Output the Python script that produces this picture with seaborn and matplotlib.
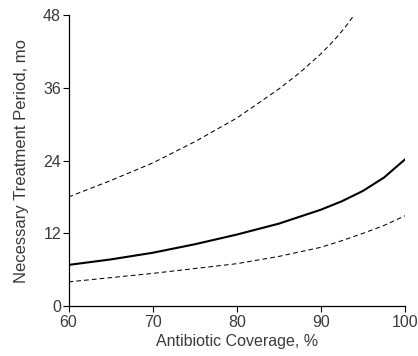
import matplotlib
matplotlib.use("Agg")
import matplotlib.pyplot as plt
import seaborn as sns
import pandas as pd

coverage = [60, 65, 70, 75, 80, 85, 90, 92.5, 95, 97.5, 100]
estimate = [6.8, 7.7, 8.8, 10.2, 11.8, 13.6, 15.9, 17.3, 19.0, 21.2, 24.2]
lower = [4.0, 4.7, 5.4, 6.2, 7.0, 8.2, 9.7, 10.8, 12.0, 13.3, 14.9]

upper_cov = [60, 65, 70, 75, 80, 85, 87.5, 90, 91, 92, 93, 94]
upper = [18.0, 20.7, 23.6, 27.1, 31.0, 35.8, 38.5, 41.6, 43.0, 44.5, 46.2, 48.1]

x_ticks = [60, 70, 80, 90, 100]
y_ticks = [0, 12, 24, 36, 48]

sns.set_style("ticks")
plt.rcParams['font.family'] = ['Liberation Sans', 'DejaVu Sans']

fig = plt.figure(figsize=(4.18, 3.56), dpi=100)
ax = fig.add_axes([0.164, 0.140, 0.805, 0.818])

df_est = pd.DataFrame({"x": coverage, "y": estimate})
df_low = pd.DataFrame({"x": coverage, "y": lower})
df_up = pd.DataFrame({"x": upper_cov, "y": upper})

sns.lineplot(data=df_est, x="x", y="y", ax=ax, color="black", linewidth=1.5)
sns.lineplot(data=df_low, x="x", y="y", ax=ax, color="black", linewidth=0.75,
             linestyle=(0, (4.5, 3)))
sns.lineplot(data=df_up, x="x", y="y", ax=ax, color="black", linewidth=0.75,
             linestyle=(0, (4.5, 3)))

ax.set_xlim(60, 100)
ax.set_ylim(0, 48)
ax.set_xticks(x_ticks)
ax.set_yticks(y_ticks)
ax.tick_params(axis="both", length=4.5, width=0.8, colors="black",
               labelsize=11.5, labelcolor="#3a3a3a", pad=1)
ax.tick_params(axis="x", pad=2)
for s in ["top", "right"]:
    ax.spines[s].set_visible(False)
for s in ["left", "bottom"]:
    ax.spines[s].set_linewidth(0.9)
    ax.spines[s].set_color("black")
ax.set_xlabel("Antibiotic Coverage, %", fontsize=11.5, color="#3a3a3a", labelpad=3)
ax.set_ylabel("Necessary Treatment Period, mo", fontsize=12, color="#3a3a3a", labelpad=10)

fig.savefig("out.png", dpi=100)
